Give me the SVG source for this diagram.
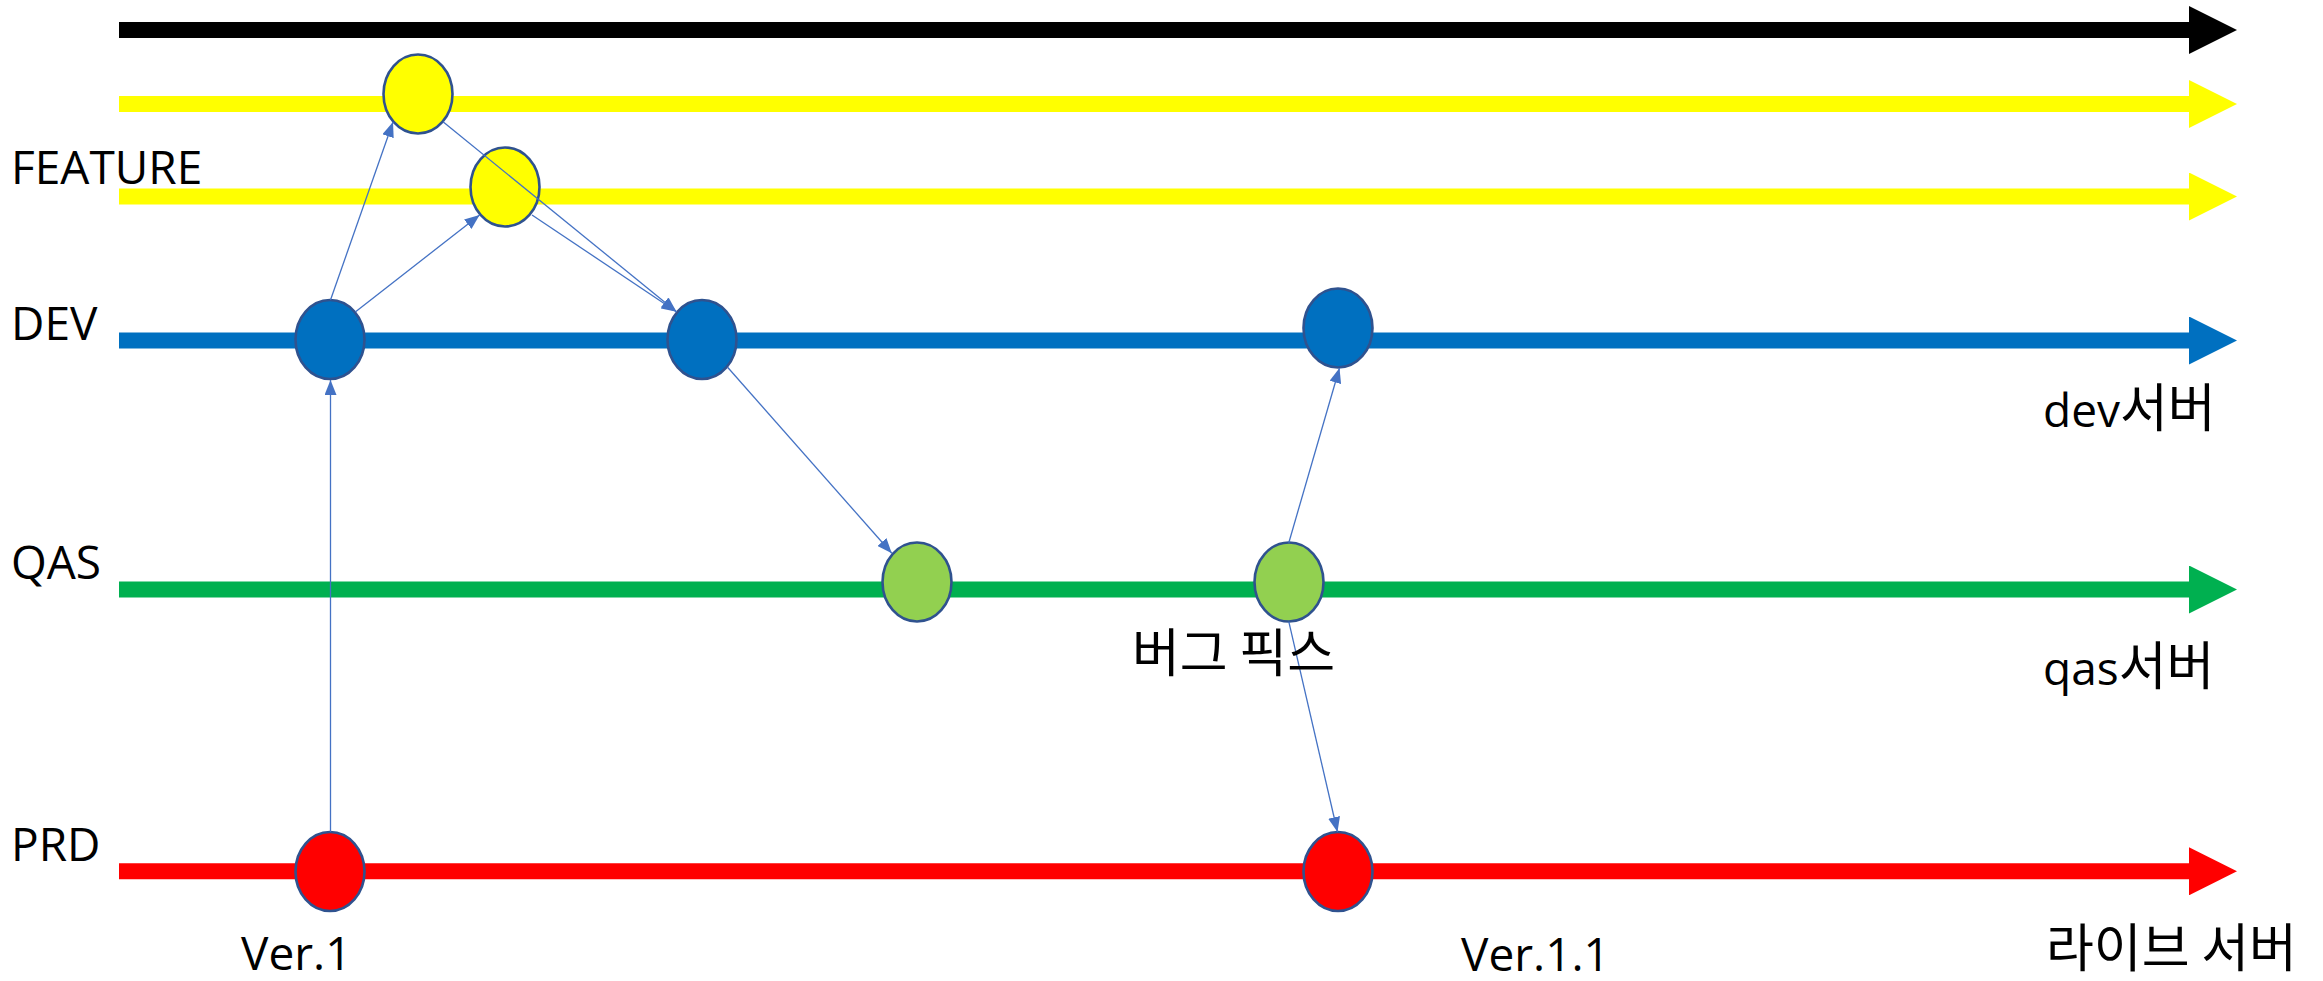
<svg xmlns="http://www.w3.org/2000/svg" width="2323" height="981" viewBox="0 0 2323 981">
<style>
.lane{stroke-width:16;fill:none}
.node{stroke:#2F528F;stroke-width:2.6}
.conn{stroke:#4472C4;stroke-width:1.3;fill:none;marker-end:url(#ah)}
.lbl{font-family:"Open Sans","Noto Sans CJK KR",sans-serif;font-size:46px;fill:#000}
.ko{font-family:"Noto Sans CJK KR","Open Sans",sans-serif;font-size:52px}
</style>
<defs>
<marker id="mk" viewBox="0 0 3 3" markerWidth="3" markerHeight="3" refX="0" refY="1.5" orient="auto" markerUnits="strokeWidth"><path d="M0,0 L3,1.5 L0,3 z" fill="#000000"/></marker>
<marker id="my" viewBox="0 0 3 3" markerWidth="3" markerHeight="3" refX="0" refY="1.5" orient="auto" markerUnits="strokeWidth"><path d="M0,0 L3,1.5 L0,3 z" fill="#FFFF00"/></marker>
<marker id="mb" viewBox="0 0 3 3" markerWidth="3" markerHeight="3" refX="0" refY="1.5" orient="auto" markerUnits="strokeWidth"><path d="M0,0 L3,1.5 L0,3 z" fill="#0070C0"/></marker>
<marker id="mg" viewBox="0 0 3 3" markerWidth="3" markerHeight="3" refX="0" refY="1.5" orient="auto" markerUnits="strokeWidth"><path d="M0,0 L3,1.5 L0,3 z" fill="#00B050"/></marker>
<marker id="mr" viewBox="0 0 3 3" markerWidth="3" markerHeight="3" refX="0" refY="1.5" orient="auto" markerUnits="strokeWidth"><path d="M0,0 L3,1.5 L0,3 z" fill="#FF0000"/></marker>
<marker id="ah" viewBox="0 0 15 12" markerWidth="15" markerHeight="12" refX="15" refY="6" orient="auto" markerUnits="userSpaceOnUse"><path d="M0,0 L15,6 L0,12 z" fill="#4472C4"/></marker>
</defs>
<g id="lanes">
<path class="lane" d="M119,30 H2189" stroke="#000000" marker-end="url(#mk)"/>
<path class="lane" d="M119,104 H2189" stroke="#FFFF00" marker-end="url(#my)"/>
<path class="lane" d="M119,196.5 H2189" stroke="#FFFF00" marker-end="url(#my)"/>
<path class="lane" d="M119,340.5 H2189" stroke="#0070C0" marker-end="url(#mb)"/>
<path class="lane" d="M119,589.5 H2189" stroke="#00B050" marker-end="url(#mg)"/>
<path class="lane" d="M119,871.3 H2189" stroke="#FF0000" marker-end="url(#mr)"/>
</g>
<g id="feature1"><ellipse class="node" cx="418" cy="94" rx="34.5" ry="39.5" fill="#FFFF00"/></g>
<g id="feature2"><ellipse class="node" cx="505" cy="187" rx="34.5" ry="39.5" fill="#FFFF00"/></g>
<g id="dev1"><ellipse class="node" cx="330" cy="339.5" rx="34.5" ry="39.5" fill="#0070C0"/></g>
<g id="dev2"><ellipse class="node" cx="702" cy="339.5" rx="34.5" ry="39.5" fill="#0070C0"/></g>
<g id="dev3"><ellipse class="node" cx="1338" cy="328" rx="34.5" ry="39.5" fill="#0070C0"/></g>
<g id="qas1"><ellipse class="node" cx="917" cy="582" rx="34.5" ry="39.5" fill="#92D050"/></g>
<g id="qas2"><ellipse class="node" cx="1289" cy="582" rx="34.5" ry="39.5" fill="#92D050"/></g>
<g id="prd1"><ellipse class="node" cx="330" cy="871.5" rx="34.5" ry="39.5" fill="#FF0000"/></g>
<g id="prd2"><ellipse class="node" cx="1338" cy="871.5" rx="34.5" ry="39.5" fill="#FF0000"/></g>
<g id="connectors">
<path class="conn" d="M330.5,832 L330.5,380"/>
<path class="conn" d="M330.5,300 L393,122"/>
<path class="conn" d="M355.6,311.7 L479.6,215"/>
<path class="conn" d="M443,121.7 L676.5,311.7"/>
<path class="conn" d="M532,215 L676.5,311.7"/>
<path class="conn" d="M727.6,367.3 L891.8,553.3"/>
<path class="conn" d="M1288.8,542.7 L1339.5,368"/>
<path class="conn" d="M1288.8,621.7 L1337.5,832"/>
</g>
<g id="labels">
<text class="lbl" x="11" y="184">FEATURE</text>
<text class="lbl" x="11" y="340">DEV</text>
<text class="lbl" x="11" y="579">QAS</text>
<text class="lbl" x="11" y="861">PRD</text>
<text class="lbl" x="241" y="970">Ver.1</text>
<text class="lbl" x="1461" y="971">Ver.1.1</text>
<text class="lbl ko" x="1132" y="672">버그 픽스</text>
<text class="lbl" x="2043" y="427">dev<tspan class="ko">서버</tspan></text>
<text class="lbl" x="2043" y="685">qas<tspan class="ko">서버</tspan></text>
<text class="lbl ko" x="2046" y="967">라이브 서버</text>
</g>
</svg>
